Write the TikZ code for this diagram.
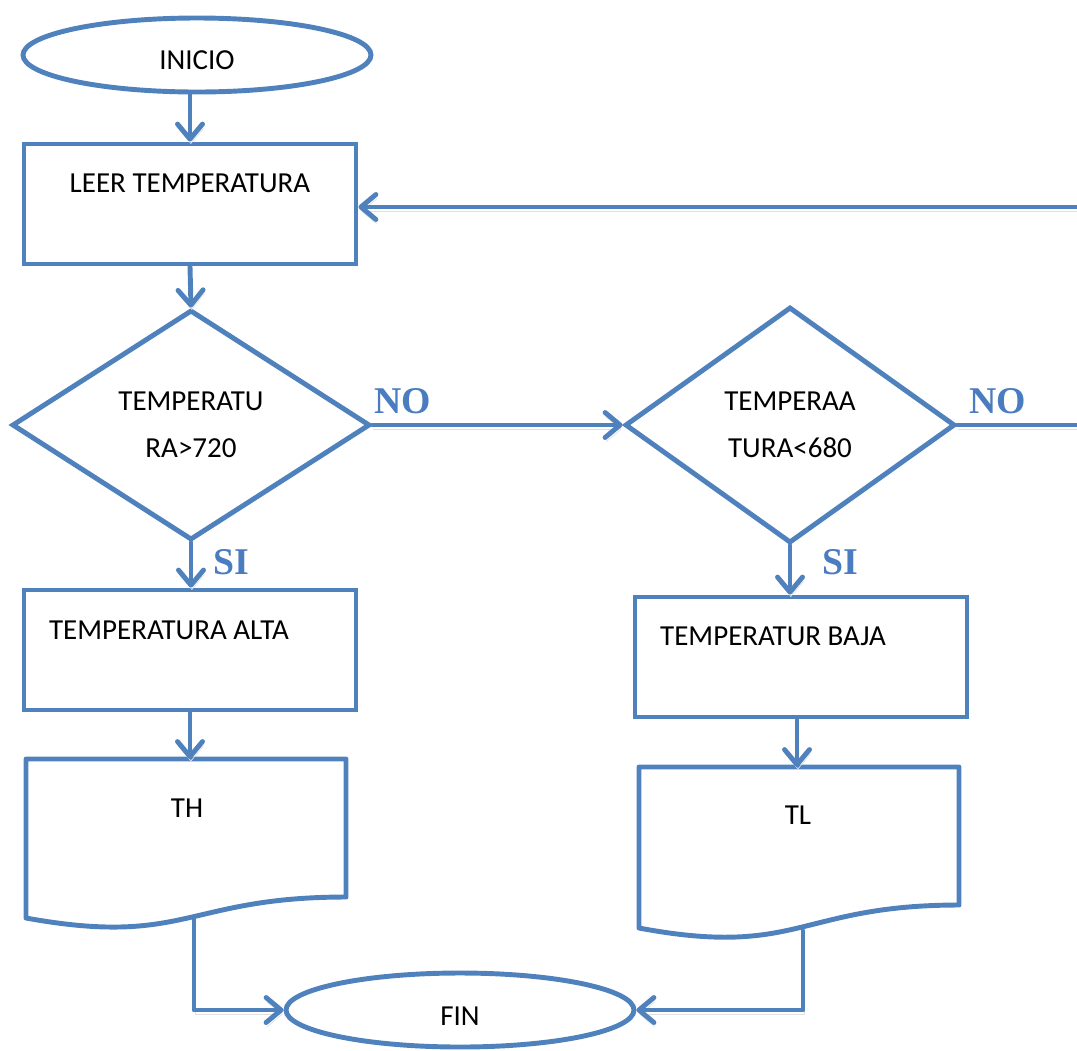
\documentclass[tikz,border=0pt]{standalone}
\usepackage{fontspec}
\setmainfont{Carlito}
\newfontfamily\labelfont{Liberation Serif}
\usepackage{tikz}
\usetikzlibrary{arrows.meta, shapes.geometric}
\definecolor{flowblue}{HTML}{4F81BD}
\definecolor{labelblue}{HTML}{4A7CC0}

\begin{document}
\begin{tikzpicture}[x=0.2mm, y=-0.2mm]
\tikzstyle{term}=[ellipse, draw=flowblue, line width=2.8pt, minimum width=6.96cm, minimum height=1.48cm, inner sep=0pt, text height=0.6cm, font=\fontsize{16.5}{19}\selectfont]
\tikzstyle{proc}=[rectangle, draw=flowblue, line width=2.8pt, minimum width=6.64cm, minimum height=2.4cm, inner sep=0pt]
\tikzstyle{decision}=[diamond, draw=flowblue, line width=2.8pt, inner sep=0pt, align=center, font=\fontsize{16.5}{19}\selectfont]
\tikzstyle{txt}=[inner sep=0pt, font=\fontsize{16.5}{19}\selectfont]
\tikzstyle{lbl}=[inner sep=0pt, text=labelblue, font=\labelfont\bfseries\fontsize{21.5}{24}\selectfont]
\tikzstyle{flow}=[draw=flowblue, line width=2.8pt, line cap=round, line join=round]
\tikzstyle{arr}=[flow, -{Straight Barb[length=3mm, width=5mm, round]},
  preaction={draw=black!12, transform canvas={shift={(0.5pt,-2.5pt)}}}]

\clip (0,0) rectangle (1077,1050);

\node[term] (inicio) at (197,55) {INICIO};
\node[proc] (leer) at (190,204) {};
\node[txt] (leer-txt) at (190,183) {LEER TEMPERATURA};
\node[decision, minimum width=7.16cm, minimum height=4.6cm] (d1) at (191,425) {TEMPERATU\\[8pt]RA>720};
\node[decision, minimum width=6.6cm, minimum height=4.72cm] (d2) at (790,425) {TEMPERAA\\[8pt]TURA<680};
\node[proc] (alta) at (190,650) {};
\node[txt] (alta-txt) at (169,630) {TEMPERATURA ALTA};
\node[proc] (baja) at (801,657) {};
\node[txt] (baja-txt) at (773,636) {TEMPERATUR BAJA};
\node[term] (fin) at (460,1010) {FIN};

\node[lbl] (no1) at (403,401) {NO};
\node[lbl] (no2) at (998,401) {NO};
\node[lbl] (si1) at (231,562) {SI};
\node[lbl] (si2) at (840,562) {SI};

% output documents
\draw[flow] (26,759) -- (346,759) -- (346,897) .. controls (186,897) and (186,947) .. (26,918) -- cycle;
\node[txt] (th) at (187,808) {TH};
\coordinate (th-top) at (190,759);
\coordinate (th-out) at (194,919);

\draw[flow] (639,767) -- (959,767) -- (959,905) .. controls (799,905) and (799,958) .. (639,928) -- cycle;
\node[txt] (tl) at (798,815) {TL};
\coordinate (tl-top) at (797,767);
\coordinate (tl-out) at (803,931);

\coordinate (loop) at (1100,207);

\draw[arr] (inicio.south -| leer.north) -- (leer.north);
\draw[arr] (leer.south) -- (d1.north);
\draw[arr] (d1.east) -- (d2.west);
\draw[arr] (d2.east) -| (loop) -- (loop -| leer.east);
\draw[arr] (d1.south) -- (alta.north -| d1.south);
\draw[arr] (alta.south) -- (th-top);
\draw[arr] (d2.south) -- (baja.north -| d2.south);
\draw[arr] (baja.south -| tl-top) -- (tl-top);
\draw[arr] (th-out) |- (fin.west);
\draw[arr] (tl-out) |- (fin.east);

\end{tikzpicture}
\end{document}
